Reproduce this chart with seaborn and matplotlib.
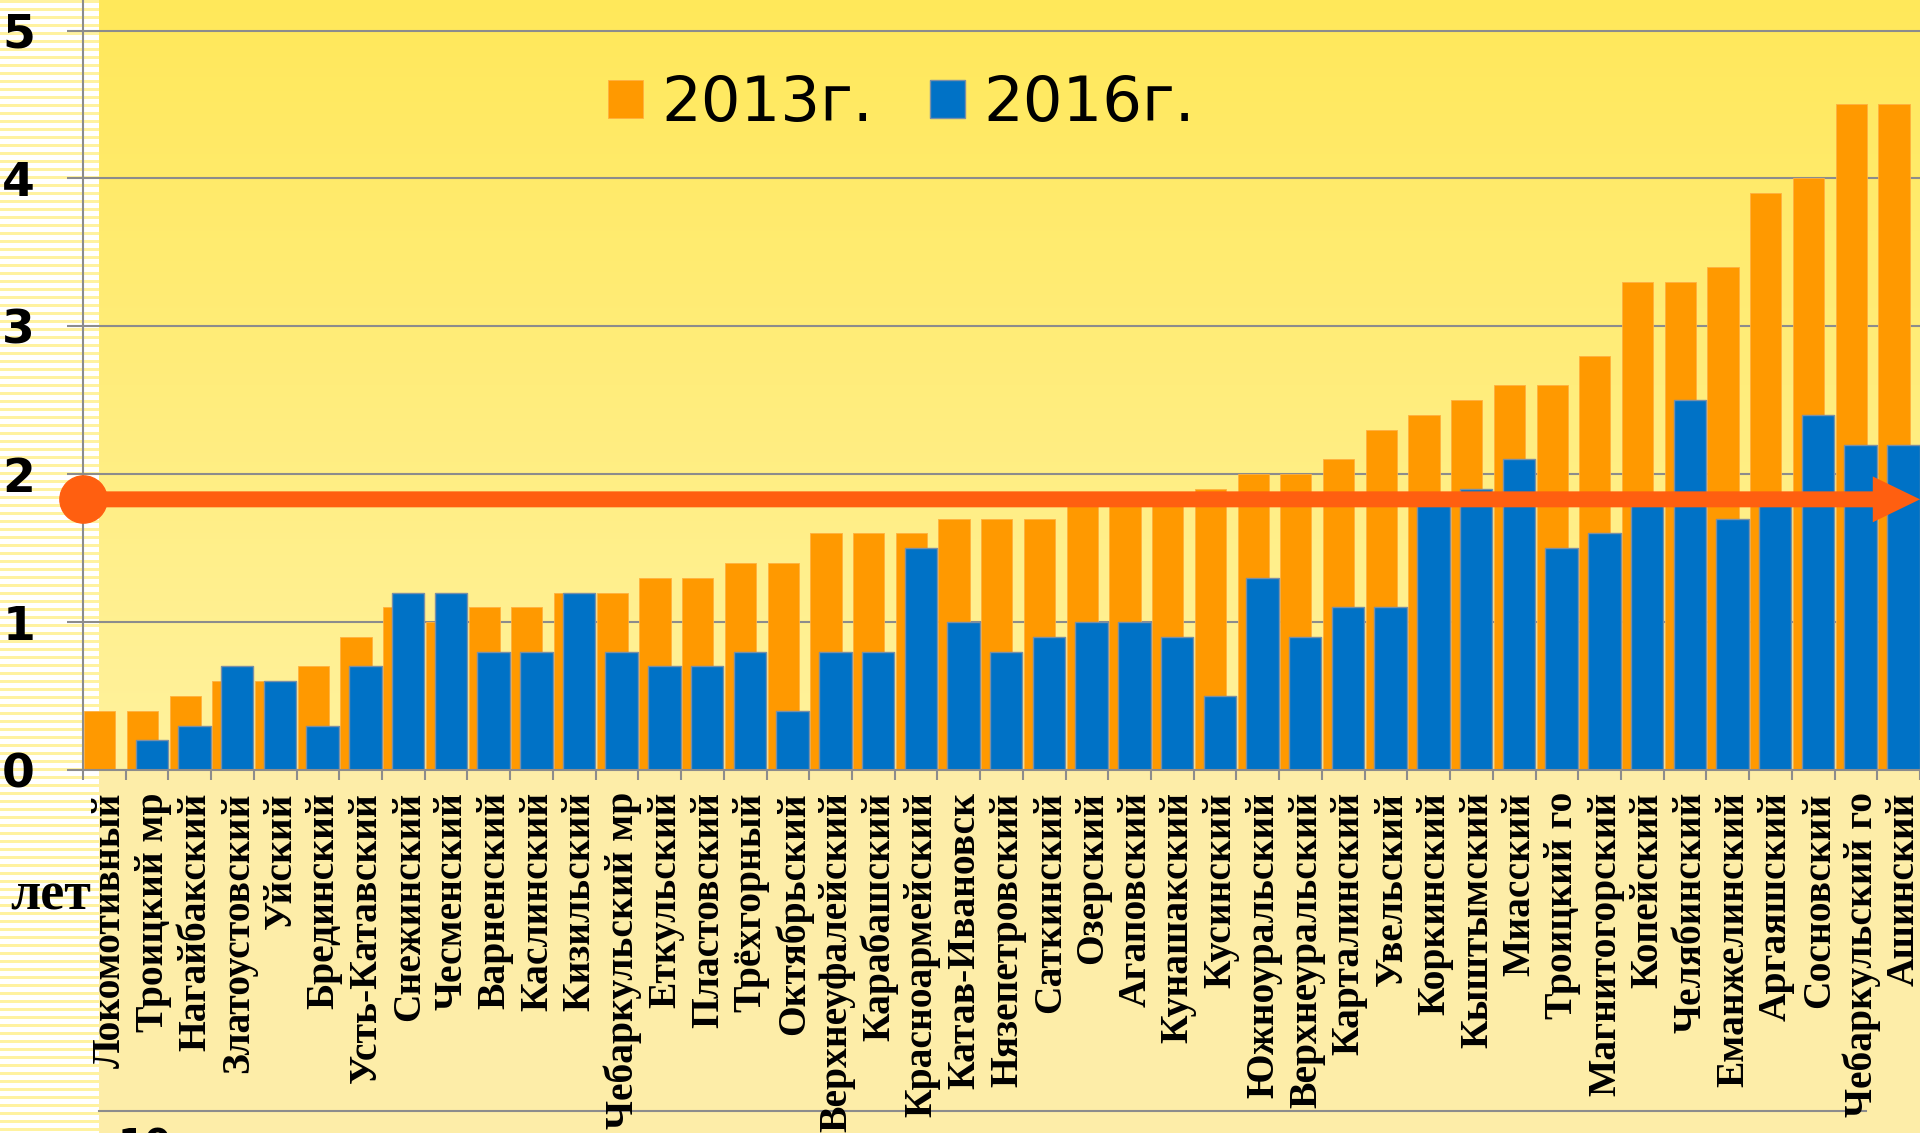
import numpy as np
import pandas as pd
import seaborn as sns
import matplotlib.pyplot as plt

# Территории (в порядке слайда) и значения по годам
territories = [
    "Локомотивный", "Троицкий мр", "Нагайбакский", "Златоустовский", "Уйский",
    "Брединский", "Усть-Катавский", "Снежинский", "Чесменский", "Варненский",
    "Каслинский", "Кизильский", "Чебаркульский мр", "Еткульский", "Пластовский",
    "Трёхгорный", "Октябрьский", "Верхнеуфалейский", "Карабашский", "Красноармейский",
    "Катав-Ивановск", "Нязепетровский", "Саткинский", "Озерский", "Агаповский",
    "Кунашакский", "Кусинский", "Южноуральский", "Верхнеуральский", "Карталинский",
    "Увельский", "Коркинский", "Кыштымский", "Миасский", "Троицкий го",
    "Магнитогорский", "Копейский", "Челябинский", "Еманжелинский", "Аргаяшский",
    "Сосновский", "Чебаркульский го", "Ашинский",
]
values_2013 = [
    0.4, 0.4, 0.5, 0.6, 0.6, 0.7, 0.9, 1.1, 1.0, 1.1,
    1.1, 1.2, 1.2, 1.3, 1.3, 1.4, 1.4, 1.6, 1.6, 1.6,
    1.7, 1.7, 1.7, 1.8, 1.8, 1.8, 1.9, 2.0, 2.0, 2.1,
    2.3, 2.4, 2.5, 2.6, 2.6, 2.8, 3.3, 3.3, 3.4, 3.9,
    4.0, 4.5, 4.5,
]
values_2016 = [
    0.0, 0.2, 0.3, 0.7, 0.6, 0.3, 0.7, 1.2, 1.2, 0.8,
    0.8, 1.2, 0.8, 0.7, 0.7, 0.8, 0.4, 0.8, 0.8, 1.5,
    1.0, 0.8, 0.9, 1.0, 1.0, 0.9, 0.5, 1.3, 0.9, 1.1,
    1.1, 1.8, 1.9, 2.1, 1.5, 1.6, 1.8, 2.5, 1.7, 1.8,
    2.4, 2.2, 2.2,
]
series_labels = ["2013г.", "2016г."]
avg_level = 1.83
y_ticks = [0, 1, 2, 3, 4, 5]

orange = "#FF9900"
blue = "#0072C6"
arrow_color = "#FF5F10"
grid_gray = "#8C8C8C"

W, H = 1920, 1133
fig = plt.figure(figsize=(W / 100, H / 100), dpi=100)

# фон слайда: полоски слева, жёлтая панель с градиентом
bg = fig.add_axes([0, 0, 1, 1], zorder=0)
img = np.ones((H, W, 3))
rows = np.arange(H)
stripe = (rows % 8) < 3
img[stripe, :99] = np.array([255, 242, 160]) / 255
top_c = np.array([255, 232, 90]) / 255
bot_c = np.array([255, 242, 158]) / 255
t = np.clip(rows[:770] / 770, 0, 1)[:, None]
img[:770, 99:] = (top_c * (1 - t) + bot_c * t)[:, None, :]
img[770:, 99:] = np.array([253, 237, 168]) / 255
bg.imshow(img, extent=(0, W, H, 0), aspect="auto", interpolation="nearest")
bg.plot([99, 1866], [1111, 1111], color=grid_gray, lw=1.5)
bg.set_xlim(0, W)
bg.set_ylim(H, 0)
bg.axis("off")

ax = fig.add_axes([83 / W, (H - 770) / H, 1 - 83 / W, 770 / H], zorder=1)
ax.patch.set_alpha(0)

n = len(territories)
df = pd.DataFrame({"pos": np.arange(n), "y2013": values_2013, "y2016": values_2016})

sns.barplot(x=df["pos"] - 0.11, y=df["y2013"], native_scale=True, width=0.73,
            color=orange, saturation=1, errorbar=None, edgecolor="#FFB040",
            linewidth=0.6, label=series_labels[0], ax=ax)
sns.barplot(x=df["pos"] + 0.11, y=df["y2016"], native_scale=True, width=0.76,
            color=blue, saturation=1, errorbar=None, edgecolor="#7A8FA6",
            linewidth=1.0, label=series_labels[1], ax=ax)

ax.set_xlim(-0.5, n - 0.5)
ax.set_ylim(0, 770 / 147.9)
ax.set_xlabel("")
ax.set_ylabel("")

# подписи чуть правее центра категории, как на слайде
ax.set_xticks(np.arange(n) + 0.14)
ax.set_xticklabels(territories, rotation=90, va="top", ha="center",
                   fontfamily="Liberation Serif", fontweight="bold", fontsize=28.5)
ax.set_xticks(np.arange(n + 1) - 0.5, minor=True)
ax.tick_params(axis="x", which="major", length=0, pad=16)
ax.tick_params(axis="x", which="minor", length=7, width=1.5, color=grid_gray)

ax.set_yticks(y_ticks)
ax.set_yticklabels([str(v) for v in y_ticks], fontfamily="DejaVu Sans",
                   fontweight="bold", fontsize=34)
ax.tick_params(axis="y", length=11.5, width=1.5, color=grid_gray, pad=23)
ax.grid(axis="y", color=grid_gray, lw=1.5)
ax.grid(axis="x", visible=False)
ax.set_axisbelow(True)
for s in ["top", "right"]:
    ax.spines[s].set_visible(False)
for s in ["left", "bottom"]:
    ax.spines[s].set_color(grid_gray)
    ax.spines[s].set_linewidth(1.5)

# стрелка среднего уровня
ax.annotate("", xy=(n - 0.5, avg_level), xytext=(-0.5, avg_level),
            arrowprops=dict(arrowstyle="simple,head_length=34,head_width=33,tail_width=11.5",
                            mutation_scale=1, color=arrow_color, lw=0,
                            shrinkA=0, shrinkB=0),
            annotation_clip=False, zorder=5)
ax.plot([-0.5], [avg_level], marker="o", ms=34, color=arrow_color, lw=0,
        clip_on=False, zorder=6)

ax.legend(loc="upper left", bbox_to_anchor=(608 / W, 1 - 74 / H),
          bbox_transform=fig.transFigure, ncol=2, frameon=False, fontsize=45,
          handlelength=0.56, handleheight=0.56, handletextpad=0.3,
          columnspacing=0.9, borderpad=0, borderaxespad=0)

fig.text(10 / W, 1 - 910 / H, "лет", fontfamily="Liberation Serif",
         fontweight="bold", fontsize=39, ha="left", va="baseline")
fig.text(118 / W, 1 - 1158 / H, "10", fontfamily="DejaVu Sans",
         fontweight="bold", fontsize=28, ha="left", va="baseline")

fig.savefig("out.png", dpi=100)
